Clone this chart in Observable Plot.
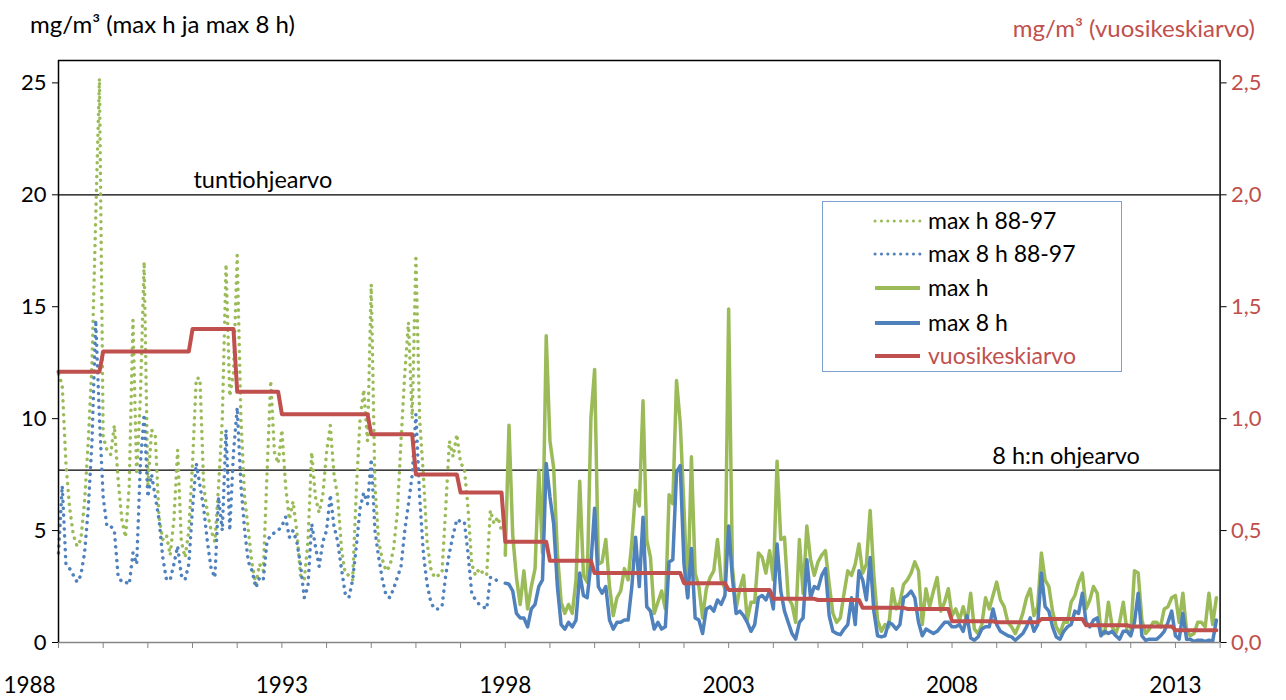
<!DOCTYPE html>
<html><head><meta charset="utf-8">
<script src="https://cdn.jsdelivr.net/npm/d3@7"></script>
<script src="https://cdn.jsdelivr.net/npm/@observablehq/plot@0.6"></script>
<style>
body{margin:0;background:#fff;}
#wrap{position:relative;width:1286px;height:700px;font-family:Lato, "Open Sans", sans-serif;overflow:hidden;}
.ttl{position:absolute;font-size:24px;white-space:nowrap;}
#legend{position:absolute;left:822px;top:201px;width:300px;height:171px;border:1px solid #7EA0D0;box-sizing:border-box;background:#fff;}
</style></head><body><div id="wrap">
<div class="ttl" style="left:30px;top:9px;color:#000">mg/m³ (max h ja max 8 h)</div>
<div class="ttl" style="right:31px;top:13px;color:#C0504D">mg/m³ (vuosikeskiarvo)</div>
</div>
<script>
// monthly maxima 1988-1997 (dotted series), mg/m3
const maxH8897 = [
 12.0,11.5,8.0,6.0,4.8,4.3,4.6,6.3,9.0,12.5,19.0,25.2,
 9.2,8.6,8.4,9.7,7.3,5.5,4.7,7.0,14.4,7.5,11.0,17.0,
 7.0,9.5,9.2,5.6,4.6,4.8,3.9,5.5,8.6,4.5,3.8,5.0,
 8.0,11.8,11.8,7.0,5.8,5.0,4.5,7.0,10.0,16.9,11.0,12.0,
 17.3,10.0,6.5,5.0,3.5,2.6,3.5,3.2,7.5,11.7,8.5,8.0,
 9.5,7.0,5.5,6.3,5.0,3.0,2.8,4.5,8.5,6.5,5.8,6.6,
 8.5,9.7,7.5,6.5,4.2,3.1,3.0,2.8,6.8,10.0,11.3,9.0,
 16.0,7.0,4.5,3.7,3.2,3.4,4.2,5.8,9.0,12.0,14.3,10.0,
 17.3,10.0,7.5,4.5,3.3,2.9,3.0,3.1,6.0,9.0,8.3,9.3,
 8.0,7.8,6.0,3.5,3.0,3.3,3.1,3.0,5.9,5.3,5.6,5.0];
const max8h8897 = [
 4.0,7.0,3.5,3.3,3.0,2.7,3.0,4.0,6.0,9.0,14.4,10.0,
 6.5,5.2,5.2,5.0,3.0,2.7,2.7,2.6,4.0,3.5,8.0,10.2,
 6.5,7.5,6.5,5.5,3.8,2.8,2.8,3.5,4.3,3.0,2.8,3.5,
 6.0,8.0,7.0,6.0,4.5,3.3,2.9,6.5,5.0,9.5,5.0,8.5,
 10.5,7.0,5.0,3.6,3.2,2.45,2.9,2.8,4.5,4.8,4.9,5.0,
 5.2,5.6,4.7,5.0,4.5,3.5,2.0,2.5,5.3,4.3,3.4,4.5,
 5.0,6.6,5.2,4.5,3.3,2.2,2.0,2.8,4.3,6.0,6.7,6.2,
 8.2,5.0,3.8,2.8,2.1,2.0,2.4,2.9,3.4,5.0,6.2,7.5,
 10.2,6.5,4.0,2.6,1.8,1.5,1.5,1.6,3.0,4.0,4.8,5.5,
 5.4,5.4,4.0,2.2,1.9,1.7,1.6,1.5,2.9,2.9,2.7,2.6];
// monthly maxima 1998-2013 (solid series)
const maxH = [
 3.9,9.7,4.8,2.9,1.7,3.2,1.5,2.5,3.3,7.7,4.0,13.7,
 9.0,7.8,4.0,1.8,1.3,1.7,1.3,2.8,7.2,3.0,2.7,10.0,
 12.2,3.5,3.6,4.6,2.5,1.2,2.0,2.3,3.3,2.8,4.5,6.8,
 6.1,10.8,4.6,3.8,1.3,1.8,2.3,1.5,6.6,6.2,11.7,9.8,
 6.0,2.0,8.3,3.1,2.5,1.1,2.4,2.9,3.2,4.6,2.8,2.4,
 14.9,3.4,1.5,2.4,3.0,1.0,1.8,1.8,4.0,3.8,3.1,4.1,
 2.8,8.1,4.6,4.7,2.0,1.7,0.9,4.6,2.2,5.2,3.7,3.0,
 3.6,3.9,4.1,2.6,1.3,0.9,1.1,2.2,3.2,3.0,3.5,4.4,
 3.1,3.5,5.9,3.0,1.0,0.5,0.8,0.7,2.4,1.5,1.8,2.6,
 2.8,3.1,3.6,3.2,0.8,2.4,1.6,2.3,2.9,1.4,1.8,2.4,
 1.2,1.5,1.0,1.6,0.9,2.2,0.6,0.4,0.8,2.0,1.5,2.1,
 2.7,1.9,1.6,0.9,0.7,0.4,0.8,1.3,2.0,2.4,1.2,1.6,
 4.0,2.8,2.5,1.4,0.7,0.4,0.9,0.9,1.8,2.1,2.7,3.1,
 1.5,1.9,2.5,2.2,0.5,0.4,1.8,0.7,0.4,0.9,1.8,0.5,
 0.4,3.2,3.1,1.0,0.4,0.6,0.9,0.9,0.7,1.5,1.6,2.0,
 2.1,0.9,2.2,0.5,0.3,0.4,0.9,0.9,0.7,2.2,0.8,2.0];
const max8h = [
 2.65,2.6,2.3,1.3,1.1,1.1,0.7,1.5,1.7,2.5,2.8,8.0,
 6.5,5.3,2.5,0.8,0.6,0.9,0.7,1.0,3.1,2.1,2.0,3.5,
 6.0,2.5,2.2,2.5,1.0,0.6,0.9,0.9,1.0,1.0,2.5,4.7,
 2.5,5.6,1.6,1.4,0.6,0.9,0.6,0.7,3.6,3.7,7.6,7.9,
 3.5,2.0,4.2,1.1,1.0,0.4,1.5,1.6,1.4,1.9,1.7,2.1,
 5.2,2.9,1.3,1.4,1.2,0.9,0.5,0.8,2.0,2.1,1.9,2.3,
 1.5,4.4,2.3,1.4,0.9,0.4,0.15,0.9,1.1,3.7,2.0,2.5,
 2.4,3.0,3.3,1.2,0.5,0.4,0.35,0.6,0.8,2.0,0.8,3.2,
 2.8,1.9,3.8,1.4,0.3,0.25,0.3,0.9,0.8,0.6,0.8,2.0,
 2.1,2.3,2.0,0.9,0.3,0.6,0.5,0.4,0.5,0.7,0.9,0.9,
 0.7,0.7,0.8,0.5,1.2,0.2,0.1,0.25,0.6,0.7,0.7,1.5,
 0.8,0.5,0.4,0.3,0.25,0.1,0.25,0.4,0.7,1.1,0.5,0.8,
 3.1,1.6,1.4,0.7,0.25,0.15,0.5,0.7,0.8,1.4,1.3,2.2,
 0.9,0.7,1.0,1.1,0.3,0.5,0.4,0.5,0.3,0.15,0.5,0.5,
 0.3,0.9,2.2,0.3,0.1,0.15,0.15,0.15,0.3,0.5,0.9,1.4,
 0.3,0.15,1.3,0.15,0.15,0.05,0.1,0.1,0.05,0.1,0.05,1.0];
// annual means 1988-2013 (right axis, mg/m3)
const annualMean = [1.21,1.30,1.30,1.40,1.12,1.02,1.02,0.93,0.75,0.67,0.45,0.365,0.31,0.31,0.265,0.235,0.195,0.19,0.155,0.15,0.095,0.09,0.105,0.077,0.072,0.055];
const startDotted = 1988, startSolid = 1998;
const leftTicks = [0,5,10,15,20,25];
const yearLabels = [1988,1993,1998,2003,2008,2013];
const guideLines = [{v:20, label:"tuntiohjearvo", x:1991.02}, {v:7.7, label:"8 h:n ohjearvo", x:2008.9}];
const legendItems = [
 {label:"max h 88-97", color:"#9BBB59", dotted:true},
 {label:"max 8 h 88-97", color:"#4F81BD", dotted:true},
 {label:"max h", color:"#9BBB59", dotted:false},
 {label:"max 8 h", color:"#4F81BD", dotted:false},
 {label:"vuosikeskiarvo", color:"#C0504D", dotted:false, textColor:"#C0504D"}];

const monthly = (arr, start) => arr.map((v,i)=>({t:start + i/12, v}));
const dH = monthly(maxH8897, startDotted), d8 = monthly(max8h8897, startDotted);
const sH = monthly(maxH, startSolid), s8 = monthly(max8h, startSolid);
const mean = annualMean.flatMap((m,yi)=>[0,1,2,3,4,5,6,7,8,9,10,11].map(k=>({t:startDotted+yi+k/12, v:m*10})));
const yearTicks = d3.range(1988, 2015);

const FONT = "Lato, 'Open Sans', sans-serif";
const dotStyle = {strokeWidth:3.5, strokeDasharray:"0.1 6.8", strokeLinecap:"round"};
const chart = Plot.plot({
  width:1286, height:700,
  marginLeft:58, marginRight:66.4, marginTop:60, marginBottom:58,
  style:{fontFamily:FONT, fontSize:"22px", background:"transparent", overflow:"visible"},
  x:{domain:[1988,2014]},
  y:{domain:[0,26]},
  marks:[
    Plot.ruleY(guideLines, {y:"v", stroke:"#000", strokeWidth:1.3}),
    Plot.text(guideLines, {x:"x", y:"v", text:"label", dy:-14, textAnchor:"start", fontSize:23.5, fill:"#000"}),
    Plot.line(dH, {x:"t", y:"v", stroke:"#9BBB59", ...dotStyle}),
    Plot.line(d8, {x:"t", y:"v", stroke:"#4F81BD", ...dotStyle}),
    Plot.line(sH, {x:"t", y:"v", stroke:"#9BBB59", strokeWidth:3.5, strokeLinejoin:"round"}),
    Plot.line(s8, {x:"t", y:"v", stroke:"#4F81BD", strokeWidth:3.5, strokeLinejoin:"round"}),
    Plot.line(mean, {x:"t", y:"v", stroke:"#C0504D", strokeWidth:4, strokeLinejoin:"round"}),
    Plot.ruleY([0], {stroke:"#868686", strokeWidth:1.3}),
    Plot.ruleY([26], {stroke:"#000", strokeWidth:1.3}),
    Plot.ruleX([1988, 2014], {stroke:"#000", strokeWidth:1.5}),
    Plot.axisX({ticks:yearTicks, tickFormat:()=>"", tickSize:6, stroke:"#868686", label:null}),
    Plot.axisX({ticks:yearLabels.slice(1), tickSize:0, tickPadding:35, fontSize:22.5, label:null, fill:"#000", tickFormat:d=>String(d)}),
    Plot.axisX({ticks:yearLabels.slice(0,1), tickSize:0, tickPadding:35, fontSize:22.5, label:null, dx:-29, fill:"#000", tickFormat:d=>String(d)}),
    Plot.axisY({ticks:leftTicks, tickSize:6, tickPadding:6, fontSize:22, label:null, anchor:"left", fill:"#000"}),
    Plot.axisY({ticks:leftTicks, tickSize:6, tickPadding:5, fontSize:22, label:null, anchor:"right", fill:"#C0504D", stroke:"#000",
      tickFormat:d=>(d/10).toFixed(1).replace(".", ",")})
  ]
});
const wrap = document.getElementById("wrap");
chart.style.position = "absolute"; chart.style.left = "0"; chart.style.top = "0";
wrap.appendChild(chart);

// legend
const lg = document.createElement("div"); lg.id = "legend";
const ns = "http://www.w3.org/2000/svg";
const svg = document.createElementNS(ns, "svg");
svg.setAttribute("width", 298); svg.setAttribute("height", 169);
const rowY = [19, 52, 86, 121, 154];
legendItems.forEach((it, i) => {
  const l = document.createElementNS(ns, "line");
  l.setAttribute("x1", 52); l.setAttribute("x2", 97);
  l.setAttribute("y1", rowY[i]); l.setAttribute("y2", rowY[i]);
  l.setAttribute("stroke", it.color);
  if (it.dotted) { l.setAttribute("stroke-width", 3); l.setAttribute("stroke-dasharray", "0.1 6.3"); l.setAttribute("stroke-linecap", "round"); }
  else { l.setAttribute("stroke-width", 4); }
  svg.appendChild(l);
  const t = document.createElementNS(ns, "text");
  t.setAttribute("x", 105); t.setAttribute("y", rowY[i]); t.setAttribute("dy", "0.35em");
  t.setAttribute("font-size", 23); t.setAttribute("font-family", FONT);
  t.setAttribute("fill", it.textColor || "#000");
  t.textContent = it.label;
  svg.appendChild(t);
});
lg.appendChild(svg);
wrap.appendChild(lg);
</script>
</body></html>
